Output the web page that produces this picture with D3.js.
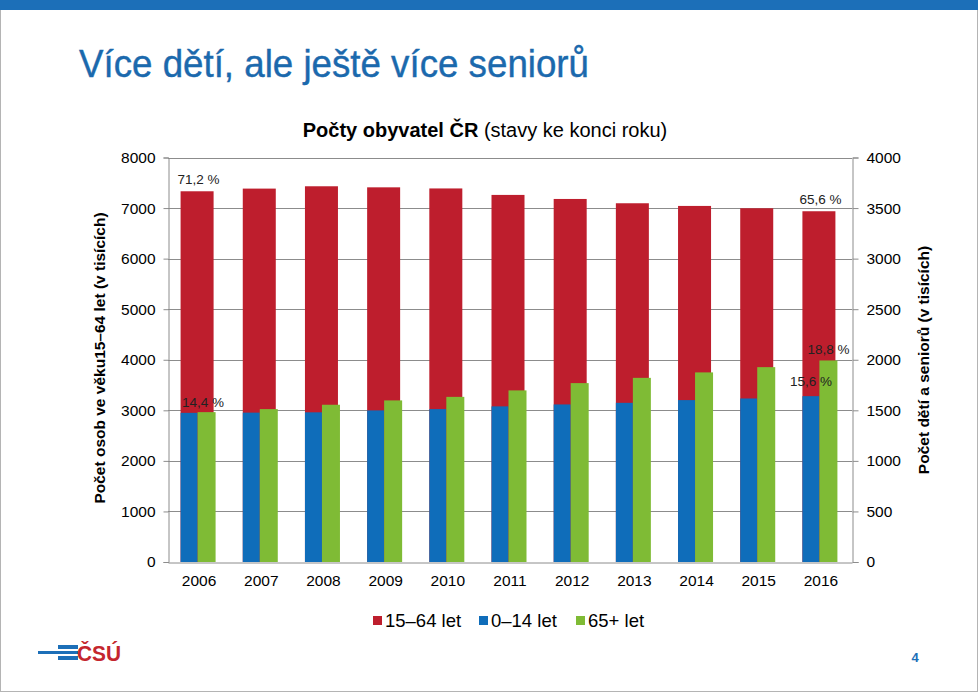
<!DOCTYPE html>
<html><head><meta charset="utf-8">
<script src="https://cdn.jsdelivr.net/npm/d3@7"></script>
<style>
html,body{margin:0;padding:0;background:#fff;}
svg{display:block;font-family:"Liberation Sans",Arial,sans-serif;}
</style></head>
<body>
<script>
const years = ["2006","2007","2008","2009","2010","2011","2012","2013","2014","2015","2016"];
const working = [7332,7385,7431,7410,7388,7260,7180,7095,7042,6996,6937]; // 15–64 let (left axis)
const children = [1475,1477,1480,1499,1512,1539,1558,1574,1601,1617,1640]; // 0–14 let (right axis)
const seniors = [1482,1512,1555,1598,1633,1697,1769,1821,1875,1927,1993]; // 65+ let (right axis)
const leftTicks = [0,1000,2000,3000,4000,5000,6000,7000,8000];
const rightTicks = [0,500,1000,1500,2000,2500,3000,3500,4000];
const legendLabels = ["15–64 let","0–14 let","65+ let"];
const dataLabels = [
  {year:"2006", series:"working", text:"71,2 %"},
  {year:"2016", series:"working", text:"65,6 %"},
  {year:"2006", series:"children", text:"14,4 %"},
  {year:"2016", series:"seniors", text:"18,8 %"},
  {year:"2016", series:"children", text:"15,6 %"}
];
const C = {red:"#be1e2d", blue:"#0f6dba", green:"#7fbb35", grid:"#8c8c8c", text:"#000", title:"#1b69ad"};

const W=978,H=692;
const svg=d3.select("body").append("svg").attr("width",W).attr("height",H);

// slide frame & top bar
svg.append("rect").attr("x",0.5).attr("y",0.5).attr("width",W-1).attr("height",H-1).attr("fill","#fff").attr("stroke","#b4b4b4");
svg.append("rect").attr("x",0).attr("y",0).attr("width",W).attr("height",10).attr("fill","#1c6fb8");

// slide title
svg.append("text").attr("x",79).attr("y",77).attr("font-size",38).attr("fill",C.title)
  .attr("stroke",C.title).attr("stroke-width",0.4)
  .attr("textLength",510).attr("lengthAdjust","spacingAndGlyphs")
  .text("Více dětí, ale ještě více seniorů");

// chart title
const ct=svg.append("text").attr("x",485).attr("y",137).attr("text-anchor","middle").attr("font-size",20).attr("fill",C.text);
ct.append("tspan").attr("font-weight","bold").text("Počty obyvatel ČR");
ct.append("tspan").text(" (stavy ke konci roku)");

const L=168,R=852,T=157.5,B=562;
const x=d3.scaleBand().domain(years).range([L,R]).padding(0);
const yL=d3.scaleLinear().domain([0,8000]).range([B,T]);
const yR=d3.scaleLinear().domain([0,4000]).range([B,T]);
const bw=x.bandwidth();

// gridlines
svg.append("g").selectAll("line").data(leftTicks.slice(1)).join("line")
  .attr("x1",L).attr("x2",R).attr("y1",d=>Math.round(yL(d))+0.5).attr("y2",d=>Math.round(yL(d))+0.5)
  .attr("stroke",C.grid).attr("stroke-width",1);

// axes
const axL=svg.append("g").attr("transform",`translate(${L+0.5},0)`)
  .call(d3.axisLeft(yL).tickValues(leftTicks).tickFormat(d3.format("d")).tickSize(5).tickPadding(8));
const axR=svg.append("g").attr("transform",`translate(${R+0.5},0)`)
  .call(d3.axisRight(yR).tickValues(rightTicks).tickFormat(d3.format("d")).tickSize(6).tickPadding(8));
[axL,axR].forEach(a=>{
  a.select(".domain").attr("stroke",C.grid);
  a.selectAll(".tick line").attr("stroke",C.grid);
  a.selectAll("text").attr("font-size",15.5).attr("fill",C.text).attr("font-family","Liberation Sans, Arial, sans-serif");
});
const axB=svg.append("g").attr("transform",`translate(0,${B+0.5})`)
  .call(d3.axisBottom(x).tickSize(0).tickPadding(12));
axB.select(".domain").attr("stroke",C.grid);
axB.selectAll("text").attr("font-size",15.5).attr("fill",C.text).attr("font-family","Liberation Sans, Arial, sans-serif");

// bars
const split=d=>x(d)+bw/2-1.5;
const redW=33, blueW=17, greenW=18;
svg.append("g").selectAll("rect").data(years).join("rect")
  .attr("x",(d)=>split(d)-0.5-redW/2).attr("width",redW)
  .attr("y",(d,i)=>yL(working[i])).attr("height",(d,i)=>B-yL(working[i])).attr("fill",C.red);
svg.append("g").selectAll("rect").data(years).join("rect")
  .attr("x",d=>split(d)-blueW).attr("width",blueW)
  .attr("y",(d,i)=>yR(children[i])).attr("height",(d,i)=>B-yR(children[i])).attr("fill",C.blue);
svg.append("g").selectAll("rect").data(years).join("rect")
  .attr("x",d=>split(d)).attr("width",greenW)
  .attr("y",(d,i)=>yR(seniors[i])).attr("height",(d,i)=>B-yR(seniors[i])).attr("fill",C.green);

// data labels
const pos = {
  working:(yr)=>({cx:split(yr)+1, top:yL(working[years.indexOf(yr)]), dy:-7}),
  children:(yr)=>({cx:split(yr)-blueW/2+ (yr==="2006"?14:0), top:yR(children[years.indexOf(yr)]), dy:(yr==="2006"?-6:-10)}),
  seniors:(yr)=>({cx:split(yr)+greenW/2, top:yR(seniors[years.indexOf(yr)]), dy:-6})
};
svg.append("g").selectAll("text").data(dataLabels).join("text")
  .attr("x",d=>pos[d.series](d.year).cx)
  .attr("y",d=>pos[d.series](d.year).top+pos[d.series](d.year).dy)
  .attr("text-anchor","middle").attr("font-size",13.5).attr("fill","#222")
  .text(d=>d.text);

// axis titles
svg.append("text").attr("transform","translate(105,358) rotate(-90)").attr("text-anchor","middle")
  .attr("font-size",15.5).attr("font-weight","bold").attr("fill",C.text)
  .text("Počet osob ve věku15–64 let (v tisících)");
svg.append("text").attr("transform","translate(929,360) rotate(-90)").attr("text-anchor","middle")
  .attr("font-size",15.5).attr("font-weight","bold").attr("fill",C.text)
  .text("Počet dětí a seniorů (v tisících)");

// legend
const legColors=[C.red,C.blue,C.green];
const legX=[373,479,576];
const lg=svg.append("g");
legendLabels.forEach((t,i)=>{
  lg.append("rect").attr("x",legX[i]).attr("y",616).attr("width",9).attr("height",9).attr("fill",legColors[i]);
  lg.append("text").attr("x",legX[i]+12).attr("y",627).attr("font-size",18.5).attr("fill",C.text).text(t);
});

// logo
const logo=svg.append("g");
logo.append("rect").attr("x",38).attr("y",651).attr("width",40).attr("height",3).attr("fill","#1c6fb8");
logo.append("rect").attr("x",58).attr("y",645).attr("width",20).attr("height",4).attr("fill","#1c6fb8");
logo.append("rect").attr("x",58).attr("y",656).attr("width",20).attr("height",4).attr("fill","#1c6fb8");
logo.append("text").attr("x",77).attr("y",661).attr("font-size",22).attr("font-weight","bold").attr("fill","#c4262e")
  .attr("textLength",44).attr("lengthAdjust","spacingAndGlyphs").text("ČSÚ");

// page number
svg.append("text").attr("x",915).attr("y",662).attr("text-anchor","middle").attr("font-size",13).attr("font-weight","bold").attr("fill","#1c6fb8").text("4");
</script>
</body></html>
